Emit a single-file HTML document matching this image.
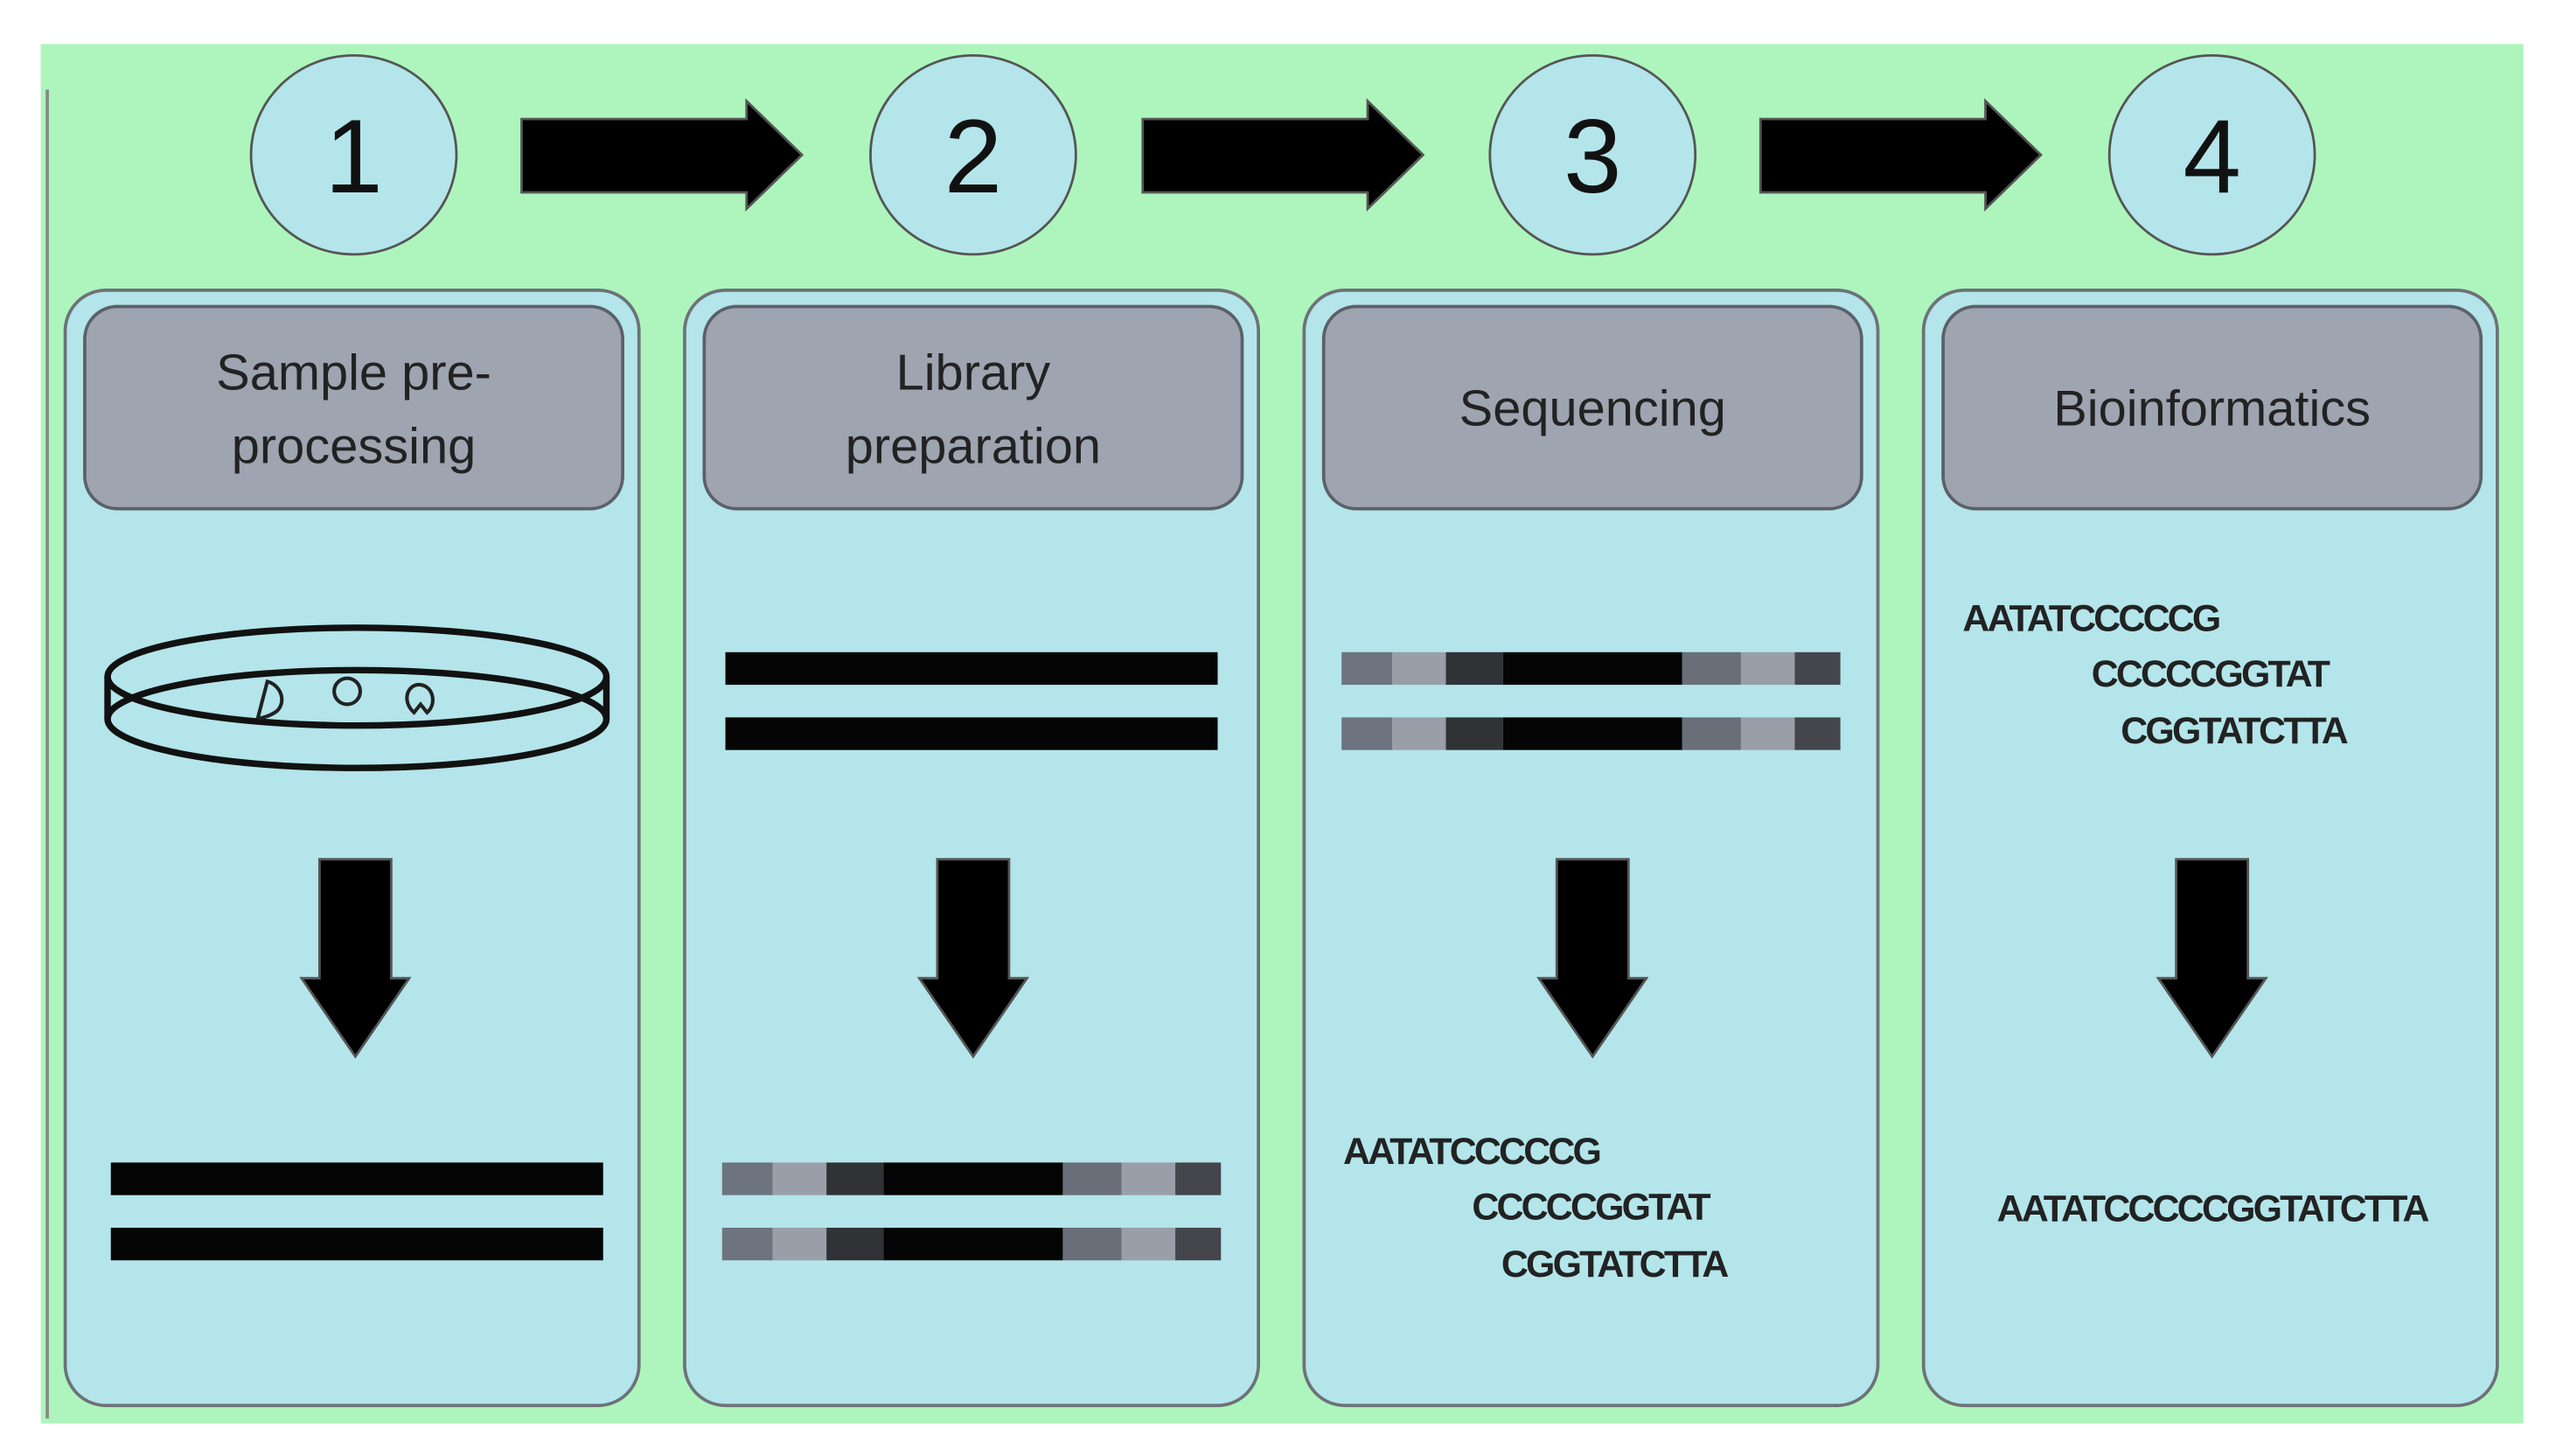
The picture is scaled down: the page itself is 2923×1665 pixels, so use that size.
<!DOCTYPE html>
<html><head><meta charset="utf-8"><style>
html,body{margin:0;padding:0;background:#fff;}
svg{display:block;}
text{font-family:"Liberation Sans",sans-serif;}
</style></head><body>
<svg width="2923" height="1665" viewBox="0 0 1568 893" preserveAspectRatio="none" xmlns="http://www.w3.org/2000/svg">
<defs>
<g id="seg">
 <rect x="0" y="0" width="31" height="20" fill="#6e7380"/>
 <rect x="31" y="0" width="33" height="20" fill="#9a9ea8"/>
 <rect x="64" y="0" width="35" height="20" fill="#303236"/>
 <rect x="99" y="0" width="110" height="20" fill="#050505"/>
 <rect x="209" y="0" width="36" height="20" fill="#6a6e78"/>
 <rect x="245" y="0" width="33" height="20" fill="#9a9ea8"/>
 <rect x="278" y="0" width="28" height="20" fill="#44464c"/>
</g>
<path id="harrow" d="M320,73 H458 V62 L492,95 L458,128 V118 H320 Z" fill="#000" stroke="#555" stroke-width="1.5"/>
<path id="darrow" d="M-22,527 H22 V600 H33 L0,648 L-33,600 H-22 Z" fill="#000" stroke="#555" stroke-width="1.5"/>
</defs>
<rect x="25" y="27" width="1523" height="846" fill="#adf5bd"/>
<line x1="29" y1="55" x2="29" y2="870" stroke="#888" stroke-width="2"/>
<g fill="#b3e5ea" stroke="#555" stroke-width="1.5">
<ellipse cx="217" cy="95" rx="63" ry="61"/>
<ellipse cx="597" cy="95" rx="63" ry="61"/>
<ellipse cx="977" cy="95" rx="63" ry="61"/>
<ellipse cx="1357" cy="95" rx="63" ry="61"/>
</g>
<g font-size="64" text-anchor="middle" fill="#111">
<text x="217" y="118">1</text><text x="597" y="118">2</text><text x="977" y="118">3</text><text x="1357" y="118">4</text>
</g>
<use href="#harrow"/>
<use href="#harrow" x="381"/>
<use href="#harrow" x="760"/>
<g fill="#b3e5ea" stroke="#6d7278" stroke-width="2">
<rect x="40" y="178" width="352" height="684" rx="25"/>
<rect x="420" y="178" width="352" height="684" rx="25"/>
<rect x="800" y="178" width="352" height="684" rx="25"/>
<rect x="1180" y="178" width="352" height="684" rx="25"/>
</g>
<g fill="#9ea4b0" stroke="#5c6068" stroke-width="2">
<rect x="52" y="188" width="330" height="124" rx="20"/>
<rect x="432" y="188" width="330" height="124" rx="20"/>
<rect x="812" y="188" width="330" height="124" rx="20"/>
<rect x="1192" y="188" width="330" height="124" rx="20"/>
</g>
<g font-size="31" text-anchor="middle" fill="#222">
<text x="217" y="239">Sample pre-</text><text x="217" y="284">processing</text>
<text x="597" y="239">Library</text><text x="597" y="284">preparation</text>
<text x="977" y="261">Sequencing</text>
<text x="1357" y="261">Bioinformatics</text>
</g>
<g fill="none" stroke="#111" stroke-width="4">
<ellipse cx="219" cy="415" rx="153" ry="30"/>
<ellipse cx="219" cy="441" rx="153" ry="30"/>
<line x1="66" y1="415" x2="66" y2="441"/>
<line x1="372" y1="415" x2="372" y2="441"/>
</g>
<g fill="none" stroke="#222" stroke-width="2.2">
<path d="M158,441 L164,418 C172,420 176,430 170,436 C166,439 162,440 158,441"/>
<ellipse cx="213" cy="424" rx="8" ry="8"/>
<path d="M254,437 C246,430 250,419 258,420 C266,421 268,432 262,437 L258,432 Z"/>
</g>
<use href="#darrow" x="218"/>
<use href="#darrow" x="597"/>
<use href="#darrow" x="977"/>
<use href="#darrow" x="1357"/>
<rect x="68" y="713" width="302" height="20" fill="#050505"/>
<rect x="68" y="753" width="302" height="20" fill="#050505"/>
<rect x="445" y="400" width="302" height="20" fill="#050505"/>
<rect x="445" y="440" width="302" height="20" fill="#050505"/>
<use href="#seg" x="443" y="713"/>
<use href="#seg" x="443" y="753"/>
<use href="#seg" x="823" y="400"/>
<use href="#seg" x="823" y="440"/>
<g font-size="23" font-weight="bold" fill="#222" letter-spacing="-1.5">
<text x="824" y="714">AATATCCCCCG</text>
<text x="903" y="748">CCCCCGGTAT</text>
<text x="921" y="783">CGGTATCTTA</text>
<text x="1204" y="387">AATATCCCCCG</text>
<text x="1283" y="421">CCCCCGGTAT</text>
<text x="1301" y="456">CGGTATCTTA</text>
<text x="1357" y="749" text-anchor="middle">AATATCCCCCGGTATCTTA</text>
</g>
</svg>
</body></html>
